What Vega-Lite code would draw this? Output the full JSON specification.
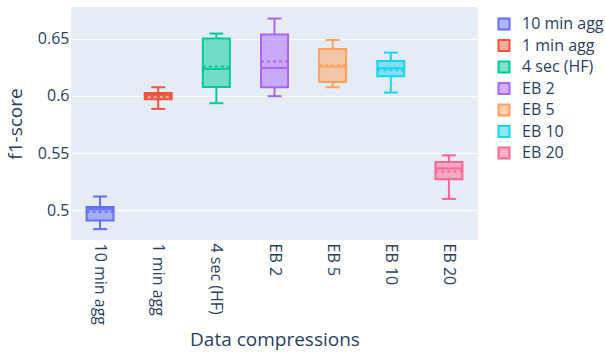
{
  "$schema": "https://vega.github.io/schema/vega-lite/v6.json",
  "autosize": {"type": "none"},
  "padding": {"left": 71, "top": 7, "right": 127, "bottom": 114},
  "width": 407,
  "height": 233,
  "background": "white",
  "config": {
    "font": "Open Sans",
    "view": {"fill": "#E5ECF6", "stroke": null}
  },
  "data": {
    "values": [
      {"group": "10 min agg", "lower": 0.4836, "q1": 0.4912, "median": 0.501, "mean": 0.4987, "q3": 0.503, "upper": 0.5121},
      {"group": "1 min agg", "lower": 0.5886, "q1": 0.597, "median": 0.6008, "mean": 0.599, "q3": 0.6025, "upper": 0.6075},
      {"group": "4 sec (HF)", "lower": 0.5936, "q1": 0.6078, "median": 0.6235, "mean": 0.6256, "q3": 0.65, "upper": 0.6544},
      {"group": "EB 2", "lower": 0.5997, "q1": 0.6075, "median": 0.6244, "mean": 0.63, "q3": 0.6535, "upper": 0.6675},
      {"group": "EB 5", "lower": 0.6075, "q1": 0.6121, "median": 0.6256, "mean": 0.6267, "q3": 0.641, "upper": 0.6488},
      {"group": "EB 10", "lower": 0.6029, "q1": 0.6171, "median": 0.6241, "mean": 0.6223, "q3": 0.6305, "upper": 0.6378},
      {"group": "EB 20", "lower": 0.51, "q1": 0.5272, "median": 0.5366, "mean": 0.5339, "q3": 0.5423, "upper": 0.548}
    ]
  },
  "encoding": {
    "x": {
      "field": "group",
      "type": "nominal",
      "sort": null,
      "scale": {"paddingInner": 0, "paddingOuter": 0},
      "axis": {
        "title": "Data compressions",
        "titleFontSize": 19,
        "titleFontWeight": "normal",
        "titleColor": "#2a3f5f",
        "titlePadding": 6,
        "labelAngle": 90,
        "labelFontSize": 16,
        "labelColor": "#2a3f5f",
        "labelPadding": 3,
        "ticks": false,
        "domain": false,
        "grid": false
      }
    },
    "color": {
      "field": "group",
      "type": "nominal",
      "sort": null,
      "scale": {
        "domain": ["10 min agg", "1 min agg", "4 sec (HF)", "EB 2", "EB 5", "EB 10", "EB 20"],
        "range": ["#636EFA", "#EF553B", "#00CC96", "#AB63FA", "#FFA15A", "#19D3F3", "#FF6692"]
      },
      "legend": {
        "title": null,
        "orient": "none",
        "legendX": 425,
        "legendY": 9,
        "symbolType": "square",
        "symbolSize": 121,
        "symbolStrokeWidth": 2,
        "labelFontSize": 16,
        "labelColor": "#2a3f5f",
        "labelOffset": 10,
        "rowPadding": 1.5,
        "encode": {
          "symbols": {
            "update": {
              "fillOpacity": {"value": 0.5},
              "stroke": {"scale": "color", "field": "value"},
              "strokeWidth": {"value": 2}
            }
          }
        }
      }
    }
  },
  "layer": [
    {
      "mark": {"type": "rule", "strokeWidth": 2},
      "encoding": {
        "y": {
          "field": "lower",
          "type": "quantitative",
          "scale": {"domain": [0.4741, 0.6776], "nice": false, "zero": false},
          "axis": {
            "title": "f1-score",
            "titleFontSize": 19,
            "titleFontWeight": "normal",
            "titleColor": "#2a3f5f",
            "titlePadding": 12,
            "values": [0.5, 0.55, 0.6, 0.65],
            "format": "~g",
            "labelFontSize": 16,
            "labelColor": "#2a3f5f",
            "labelPadding": 2,
            "ticks": false,
            "domain": false,
            "grid": true,
            "gridColor": "white",
            "gridWidth": 1
          }
        },
        "y2": {"field": "q1"}
      }
    },
    {
      "mark": {"type": "rule", "strokeWidth": 2},
      "encoding": {
        "y": {"field": "q3", "type": "quantitative"},
        "y2": {"field": "upper"}
      }
    },
    {
      "mark": {"type": "tick", "size": 14, "thickness": 2, "opacity": 1},
      "encoding": {"y": {"field": "lower", "type": "quantitative"}}
    },
    {
      "mark": {"type": "tick", "size": 14, "thickness": 2, "opacity": 1},
      "encoding": {"y": {"field": "upper", "type": "quantitative"}}
    },
    {
      "mark": {"type": "bar", "size": 27, "fillOpacity": 0.5},
      "encoding": {
        "y": {"field": "q1", "type": "quantitative"},
        "y2": {"field": "q3"}
      }
    },
    {
      "mark": {"type": "bar", "size": 27, "filled": false, "strokeWidth": 2},
      "encoding": {
        "y": {"field": "q1", "type": "quantitative"},
        "y2": {"field": "q3"}
      }
    },
    {
      "mark": {"type": "tick", "size": 27, "thickness": 2, "opacity": 1},
      "encoding": {"y": {"field": "median", "type": "quantitative"}}
    },
    {
      "mark": {"type": "point", "shape": "M-1,0L1,0", "size": 729, "filled": false, "strokeWidth": 2, "strokeDash": [3, 3], "opacity": 1},
      "encoding": {"y": {"field": "mean", "type": "quantitative"}}
    }
  ]
}
